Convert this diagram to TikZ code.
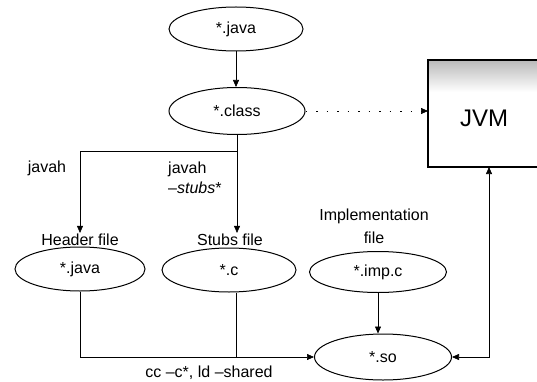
\documentclass[tikz,border=0pt]{standalone}
\usepackage{fontspec}
\setmainfont{Liberation Sans}
\usetikzlibrary{shapes.geometric,arrows.meta}
\begin{document}
\begin{tikzpicture}[x=1pt,y=-1pt,
  file/.style={ellipse,draw,line width=1pt,minimum width=134pt,minimum height=44pt,inner sep=0pt,font=\fontsize{16}{18}\selectfont},
  lbl/.style={inner sep=1pt,font=\fontsize{16}{19}\selectfont},
  conn/.style={line width=0.6pt},
  tip/.style={-{Triangle[length=7pt,width=6pt]}},
  twotips/.style={{Triangle[length=7pt,width=6pt]}-{Triangle[length=7pt,width=6pt]}},
  sparse/.style={dash pattern=on 1.5pt off 9pt}
]
\useasboundingbox (0,0) rectangle (537,382);

% JVM box
\fill[top color=gray!55,bottom color=white] (428,60) rectangle (537,92);
\draw[line width=1.4pt] (537,60) -- (428,60) -- (428,167) -- (537,167);
\node[font=\fontsize{24}{28}\selectfont] (jvm) at (484,118) {JVM};
\coordinate (jvmB) at (489,167);
\coordinate (jvmL) at (428,113);

% ellipses
\node[file] (java) at (236,29) {*.java};
\node[file,minimum width=136pt,minimum height=47pt] (class) at (237,111) {*.class};
\node[file,minimum width=130pt] (hdr) at (80,269) {*.java};
\node[file] (stubs) at (229,270) {*.c};
\node[file,minimum width=137pt,minimum height=41pt] (imp) at (378,272) {*.imp.c};
\node[file,minimum width=137pt,minimum height=46pt] (so) at (383,357) {*.so};

% labels
\node[lbl] (hdrlab) at (80,240) {Header file};
\node[lbl] (stubslab) at (230,240) {Stubs file};
\node[lbl,align=center,font=\fontsize{16}{23}\selectfont] (implab) at (374,226) {Implementation\\file};
\node[lbl] (javah1) at (47,168) {javah};
\node[lbl,anchor=west,align=left,font=\fontsize{16}{20}\selectfont] (javah2) at (167,178) {javah\\–\textit{stubs}*};
\node[lbl] (cclab) at (209,373) {cc –c*, ld –shared};

% connectors
\coordinate (split) at (237,151);
\draw[conn,tip] (java.south) -- (java.south |- class.north);
\draw[conn,tip] (class.south) -- (class.south |- stubslab.north);
\draw[conn,tip] (split) -| (hdrlab.north);
\draw[conn,sparse,tip] (class.east) -- (class.east -| jvmL);
\draw[conn,tip] (hdr.south) |- (so.west);
\draw[conn] ([xshift=7pt]stubs.south) -- ([xshift=7pt]stubs.south |- so.west);
\draw[conn,tip] (imp.south) -- (imp.south |- so.north);
\draw[conn,twotips] (so.east) -| (jvmB);
\end{tikzpicture}
\end{document}
